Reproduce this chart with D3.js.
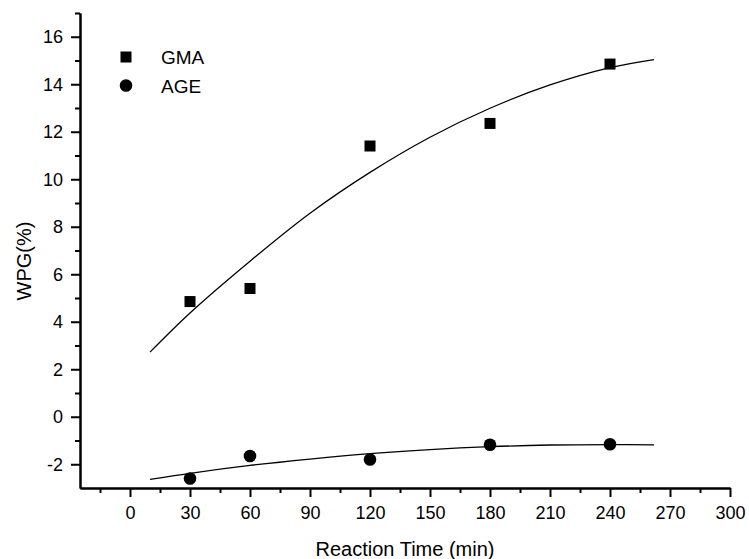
<!DOCTYPE html>
<html lang="en">
<head>
    <title>WPG vs Reaction Time</title>
    <script src="https://d3js.org/d3.v7.min.js"></script>
    <style>
        body {
            margin: 0;
            background: white;
            font-family: Arial, 'Liberation Sans', sans-serif;
        }
        .axis path, .axis line {
            stroke: #000;
            stroke-width: 2;
        }
        .axis text {
            font-size: 18px;
            fill: #000;
        }
    </style>
</head>
<body>
    <div id="chart"></div>

    <script>
        // measured points
        const times = [30, 60, 120, 180, 240];
        const gmaValues = [4.85, 5.4, 11.4, 12.35, 14.85];
        const ageValues = [-2.6, -1.65, -1.8, -1.18, -1.16];

        // fitted curves
        const fitTimes = [10, 30, 60, 90, 120, 150, 180, 210, 240, 262];
        const gmaFit = [2.72, 4.37, 6.55, 8.57, 10.29, 11.77, 12.99, 13.97, 14.7, 15.04];
        const ageFit = [-2.64, -2.38, -2.05, -1.78, -1.55, -1.38, -1.26, -1.19, -1.17, -1.18];

        const xMajor = [0, 30, 60, 90, 120, 150, 180, 210, 240, 270, 300];
        const xMinor = [-15, 15, 45, 75, 105, 135, 165, 195, 225, 255, 285];
        const yMajor = [-2, 0, 2, 4, 6, 8, 10, 12, 14, 16];
        const yMinor = [-1, 1, 3, 5, 7, 9, 11, 13, 15, 17];

        const legendItems = ["GMA", "AGE"];

        const W = 749, H = 559;
        const margin = {top: 13, right: 19, bottom: 71, left: 80};

        const svg = d3.select("#chart")
            .append("svg")
            .attr("width", W)
            .attr("height", H);

        const x = d3.scaleLinear()
            .domain([-25, 300])
            .range([margin.left, W - margin.right]);

        const y = d3.scaleLinear()
            .domain([-3, 17])
            .range([H - margin.bottom, margin.top]);

        // minor ticks first, no labels
        svg.append("g")
            .attr("class", "axis")
            .attr("transform", `translate(0,${H - margin.bottom})`)
            .call(d3.axisBottom(x).tickValues(xMinor).tickSize(5).tickSizeOuter(0).tickFormat(""));

        svg.append("g")
            .attr("class", "axis")
            .attr("transform", `translate(${margin.left},0)`)
            .call(d3.axisLeft(y).tickValues(yMinor).tickSize(5).tickSizeOuter(0).tickFormat(""));

        svg.append("g")
            .attr("class", "axis")
            .attr("transform", `translate(0,${H - margin.bottom})`)
            .call(d3.axisBottom(x).tickValues(xMajor).tickSize(9).tickPadding(9).tickSizeOuter(0).tickFormat(d => String(d)));

        svg.append("g")
            .attr("class", "axis")
            .attr("transform", `translate(${margin.left},0)`)
            .call(d3.axisLeft(y).tickValues(yMajor).tickSize(9).tickPadding(8).tickSizeOuter(0).tickFormat(d => String(d)));

        // axis titles
        svg.append("text")
            .attr("x", (x.range()[0] + x.range()[1]) / 2)
            .attr("y", 556)
            .attr("text-anchor", "middle")
            .style("font-size", "20px")
            .text("Reaction Time (min)");

        svg.append("text")
            .attr("transform", "translate(31,261) rotate(-90)")
            .attr("text-anchor", "middle")
            .style("font-size", "20px")
            .text("WPG(%)");

        // fit lines
        const line = d3.line()
            .x((d, i) => x(fitTimes[i]))
            .y(d => y(d))
            .curve(d3.curveCatmullRom);

        svg.append("path")
            .attr("d", line(gmaFit))
            .attr("fill", "none")
            .attr("stroke", "#000")
            .attr("stroke-width", 1.3);

        svg.append("path")
            .attr("d", line(ageFit))
            .attr("fill", "none")
            .attr("stroke", "#000")
            .attr("stroke-width", 1.3);

        // markers
        const sq = 11;
        svg.selectAll(".gma")
            .data(gmaValues)
            .enter()
            .append("rect")
            .attr("class", "gma")
            .attr("x", (d, i) => x(times[i]) - sq / 2)
            .attr("y", d => y(d) - sq / 2)
            .attr("width", sq)
            .attr("height", sq)
            .attr("fill", "#000");

        svg.selectAll(".age")
            .data(ageValues)
            .enter()
            .append("circle")
            .attr("class", "age")
            .attr("cx", (d, i) => x(times[i]))
            .attr("cy", d => y(d))
            .attr("r", 6.3)
            .attr("fill", "#000");

        // legend
        const legend = svg.append("g").attr("transform", "translate(126,57)");

        legend.append("rect")
            .attr("x", -sq / 2)
            .attr("y", -sq / 2)
            .attr("width", sq)
            .attr("height", sq)
            .attr("fill", "#000");

        legend.append("circle")
            .attr("cx", 0)
            .attr("cy", 28.5)
            .attr("r", 6.3)
            .attr("fill", "#000");

        legend.selectAll("text")
            .data(legendItems)
            .enter()
            .append("text")
            .attr("x", 35)
            .attr("y", (d, i) => 7 + i * 28.5)
            .style("font-size", "19px")
            .text(d => d);
    </script>
</body>
</html>
